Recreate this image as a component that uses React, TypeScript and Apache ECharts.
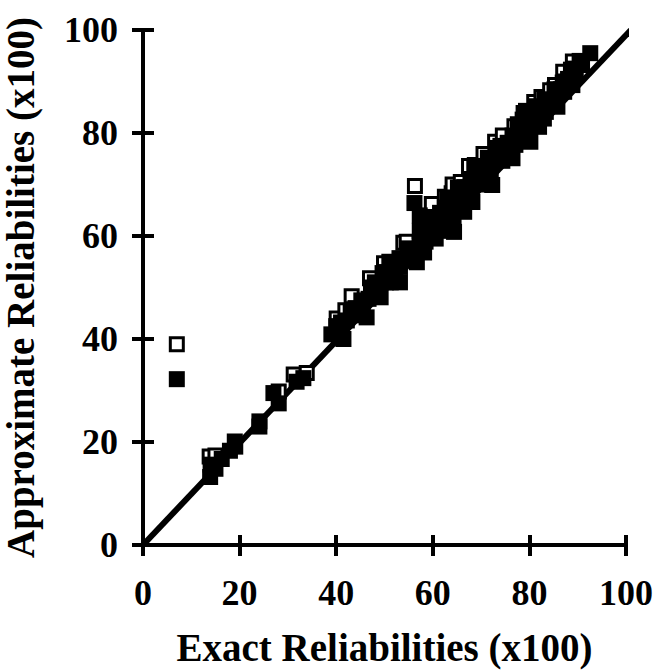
import { useEffect, useRef } from "react";
import * as echarts from "echarts";

// Axis settings
const axisMin = 0;
const axisMax = 100;
const axisStep = 20;
const xTitle = "Exact Reliabilities (x100)";
const yTitle = "Approximate Reliabilities (x100)";

// Open squares (approximation A)
const openExact = [
  7.0, 13.8, 15.0, 28.1, 31.2, 33.9, 40.1, 41.9, 43.2, 47.0, 49.9, 53.9, 54.6,
  56.3, 58.4, 59.8, 62.5, 63.9, 64.1, 65.8, 67.5, 68.7, 70.5, 72.9, 74.5, 76.9,
  78.8, 81.0, 82.5, 84.3, 85.3, 87.0, 89.0,
];
const openApprox = [
  39.0, 17.2, 17.4, 29.8, 33.1, 33.4, 44.0, 45.6, 48.3, 51.8, 54.7, 58.7, 58.9,
  69.7, 62.8, 66.2, 67.6, 68.3, 70.0, 70.5, 73.6, 73.8, 75.9, 78.3, 79.5, 81.3,
  83.9, 86.0, 87.0, 88.3, 89.3, 91.9, 93.9,
];

// Filled squares (approximation B)
const filledExact = [
  7.0, 13.9, 14.0, 15.0, 16.3, 18.0, 19.1, 19.0, 24.1, 24.1, 27.0, 28.1, 31.8, 33.2,
  39.0, 40.0, 40.8, 41.5, 41.0, 42.2, 43.0, 44.8, 45.2, 46.3, 46.7, 47.2, 48.6, 49.2,
  49.6, 50.3, 51.3, 51.0, 52.0, 53.1, 53.2, 53.2, 54.8, 55.6, 56.4, 56.7, 57.3, 58.5,
  58.2, 57.3, 57.3, 60.0, 60.0, 60.6, 56.2,
  44.0, 45.5, 48.0, 50.5, 52.0, 54.0, 55.5, 59.0, 58.5,
  61.5, 62.5, 63.1, 63.4, 64.4, 64.3, 65.0, 65.2, 66.0, 66.5, 67.0, 67.8, 68.2, 68.0,
  68.6, 70.0, 70.5, 71.4, 72.3, 72.0, 72.2, 73.1, 74.4,
  61.5, 62.5, 63.0, 64.0, 65.5, 66.5, 67.5, 69.5, 69.5, 71.0, 71.5,
  73.5, 75.5, 75.5, 76.5, 77.1, 77.6, 78.5, 78.6, 79.3, 80.2, 80.5, 81.4, 81.5, 82.0,
  83.0, 83.1, 83.4, 84.0, 85.2, 85.7, 85.8, 86.9, 87.2, 87.5, 88.6, 88.8, 88.9, 89.6,
  90.4, 90.9, 92.6,
  74.0, 76.0, 76.5, 79.0, 78.0, 80.0, 82.5, 84.5, 86.5, 88.0, 89.4,
];
const filledApprox = [
  32.2, 13.2, 15.6, 14.8, 16.7, 18.3, 19.1, 20.1, 23.0, 24.0, 29.5, 27.5, 31.7, 32.4,
  40.9, 42.5, 40.4, 40.0, 43.2, 43.6, 45.2, 44.6, 47.5, 44.2, 47.8, 50.0, 49.3, 48.1,
  52.8, 51.0, 51.0, 55.0, 52.5, 55.7, 51.0, 54.0, 57.6, 55.5, 56.0, 54.9, 58.5, 58.9,
  56.8, 61.0, 64.0, 61.2, 63.6, 59.5, 66.4,
  46.0, 45.8, 51.0, 53.0, 54.0, 55.5, 57.0, 62.0, 60.5,
  62.5, 65.5, 67.4, 61.5, 60.8, 63.0, 65.5, 69.4, 66.5, 64.7, 68.5, 71.0, 66.6, 69.0,
  73.6, 73.5, 71.5, 75.2, 69.9, 72.5, 74.0, 77.1, 74.6,
  64.5, 61.0, 63.5, 66.0, 67.5, 69.5, 67.0, 70.0, 72.5, 73.5, 71.0,
  76.0, 76.5, 78.1, 75.1, 77.7, 81.7, 80.0, 82.6, 84.3, 78.3, 81.5, 85.2, 83.5, 81.2,
  82.8, 86.5, 84.1, 85.5, 88.5, 87.0, 85.1, 89.8, 88.0, 90.0, 92.3, 91.0, 89.3, 91.6,
  94.0, 93.2, 95.5,
  77.5, 77.0, 79.5, 81.5, 78.5, 83.0, 85.0, 86.5, 88.5, 90.5, 92.5,
];

// Reference diagonal
const refExact = [0, 101];
const refApprox = [0, 100];

const FONT = "Liberation Serif";

export default function App() {
  const ref = useRef<HTMLDivElement>(null);

  useEffect(() => {
    if (!ref.current) return;
    const chart = echarts.init(ref.current, null, { renderer: "svg" });

    const gridRect = { left: 143, top: 30, width: 483, height: 515, outerBoundsMode: "none" };
    const black = "#000";
    const baseAxis = {
      type: "value",
      min: axisMin,
      max: axisMax,
      interval: axisStep,
      splitLine: { show: false },
    };
    const labelStyle = {
      color: black,
      fontFamily: FONT,
      fontWeight: "bold",
      fontSize: 36,
    };
    const nameStyle = {
      color: black,
      fontFamily: FONT,
      fontWeight: "bold",
      fontSize: 39,
    };

    const pairs = (xs: number[], ys: number[]) => xs.map((x, i) => [x, ys[i]]);

    chart.setOption({
      animation: false,
      backgroundColor: "#ffffff",
      grid: [{ ...gridRect }, { ...gridRect }],
      xAxis: [
        {
          ...baseAxis,
          gridIndex: 0,
          position: "bottom",
          axisLine: { onZero: false, lineStyle: { color: black, width: 4 } },
          axisTick: { inside: false, length: 11, lineStyle: { color: black, width: 4 } },
          axisLabel: { ...labelStyle, margin: 30 },
          name: xTitle,
          nameLocation: "middle",
          nameGap: 83,
          nameTextStyle: nameStyle,
        },
        {
          ...baseAxis,
          gridIndex: 1,
          position: "bottom",
          axisLine: { show: false, onZero: false },
          axisTick: { inside: true, length: 10, lineStyle: { color: black, width: 4 } },
          axisLabel: { show: false },
        },
      ],
      yAxis: [
        {
          ...baseAxis,
          gridIndex: 0,
          position: "left",
          axisLine: { onZero: false, lineStyle: { color: black, width: 4 } },
          axisTick: { inside: false, length: 11, lineStyle: { color: black, width: 4 } },
          axisLabel: { ...labelStyle, margin: 25 },
          name: yTitle,
          nameLocation: "middle",
          nameRotate: 90,
          nameGap: 103,
          nameTextStyle: nameStyle,
        },
        {
          ...baseAxis,
          gridIndex: 1,
          position: "left",
          axisLine: { show: false, onZero: false },
          axisTick: { inside: true, length: 11, lineStyle: { color: black, width: 4 } },
          axisLabel: { show: false },
        },
      ],
      series: [
        {
          type: "line",
          xAxisIndex: 0,
          yAxisIndex: 0,
          data: pairs(refExact, refApprox),
          symbol: "none",
          clip: false,
          lineStyle: { color: black, width: 6 },
          z: 1,
        },
        {
          type: "scatter",
          xAxisIndex: 0,
          yAxisIndex: 0,
          data: pairs(openExact, openApprox),
          symbol: "rect",
          symbolSize: 13,
          clip: false,
          itemStyle: { color: "#ffffff", borderColor: black, borderWidth: 3, opacity: 1 },
          z: 2,
        },
        {
          type: "scatter",
          xAxisIndex: 0,
          yAxisIndex: 0,
          data: pairs(filledExact, filledApprox),
          symbol: "rect",
          symbolSize: 16,
          clip: false,
          itemStyle: { color: black, opacity: 1 },
          z: 3,
        },
      ],
    });

    return () => chart.dispose();
  }, []);

  return (
    <div
      ref={ref}
      style={{ position: "absolute", left: 0, top: 0, width: 657, height: 671, background: "#fff" }}
    />
  );
}
